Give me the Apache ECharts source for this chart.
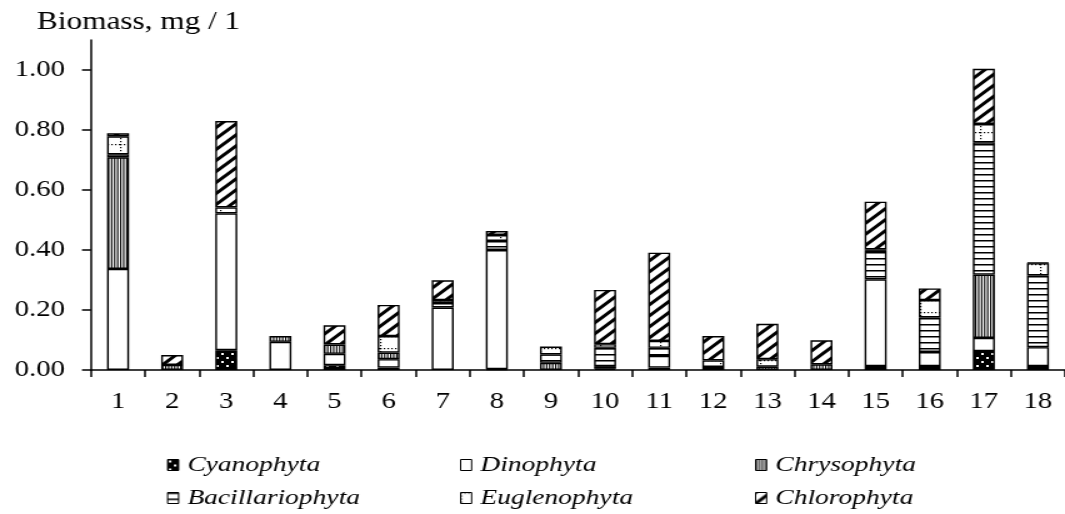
<!DOCTYPE html>
<html>
<head>
<meta charset="utf-8">
<script src="https://cdn.jsdelivr.net/npm/echarts@6/dist/echarts.min.js"></script>
<style>
  html, body { margin: 0; padding: 0; background: #fff; overflow: hidden; }
  #wrap { width: 1065px; height: 514px; overflow: hidden; }
  /* the chart is laid out on a narrower canvas and widened, giving the wide serif lettering */
  #chart { width: 852px; height: 514px; transform: scaleX(1.25); transform-origin: 0 0; }
</style>
</head>
<body>
<div id="wrap"><div id="chart"></div></div>
<script>
// Phytoplankton biomass (mg/l) by station
const stations = ['1','2','3','4','5','6','7','8','9','10','11','12','13','14','15','16','17','18'];
const cyanophyta      = [0,     0,     0.066, 0,     0.016, 0.008, 0,     0.003, 0,     0.004, 0.008, 0.010, 0,     0,     0.013, 0.013, 0.063, 0.013];
const dinophyta       = [0.337, 0,     0.456, 0.094, 0.038, 0.028, 0.208, 0.397, 0,     0,     0.039, 0,     0,     0,     0.289, 0.047, 0.044, 0.063];
const chrysophyta     = [0.372, 0.017, 0,     0.019, 0.031, 0.022, 0,     0,     0.024, 0.009, 0,     0,     0.011, 0.019, 0,     0,     0.211, 0];
const bacillariophyta = [0.010, 0,     0,     0,     0,     0,     0.015, 0.030, 0.028, 0.061, 0.027, 0,     0,     0,     0.095, 0.115, 0.441, 0.239];
const euglenophyta    = [0.060, 0,     0.020, 0,     0,     0.055, 0.010, 0.020, 0.026, 0.012, 0.023, 0.022, 0.025, 0,     0.005, 0.058, 0.061, 0.041];
const chlorophyta     = [0.010, 0.033, 0.288, 0,     0.064, 0.104, 0.066, 0.013, 0,     0.181, 0.294, 0.081, 0.118, 0.080, 0.159, 0.039, 0.184, 0.002];
const yTicks = [0, 0.2, 0.4, 0.6, 0.8, 1.0];

const S = 1.25;               // horizontal widening applied by CSS
const px = v => v / S;        // page x-distance -> canvas x-distance
const FONT = 'Liberation Serif';

function tile(w, h, draw) {
  const c = document.createElement('canvas');
  c.width = w; c.height = h;
  const g = c.getContext('2d');
  g.fillStyle = '#fff';
  g.fillRect(0, 0, w, h);
  g.fillStyle = '#000';
  g.strokeStyle = '#000';
  draw(g, w, h);
  return { image: c, repeat: 'repeat' };
}

const fills = {
  cyan: tile(8, 8, (g, w, h) => {
    g.fillRect(0, 0, w, h);
    g.fillStyle = '#fff';
    g.fillRect(1, 1, 2, 2);
    g.fillRect(5, 5, 2, 2);
  }),
  dino: '#ffffff',
  chrys: tile(12, 4, (g, w, h) => {
    for (let x = 0; x < w; x += 2.4) g.fillRect(x, 0, 1.1, h);
  }),
  bac: tile(4, 6, (g, w) => {
    g.fillRect(0, 0, w, 1.5);
  }),
  eug: tile(16, 12, (g, w, h) => {
    for (let x = 0; x < w; x += 3) g.fillRect(x, 0, 1.2, 1.2);
    for (let y = 0; y < h; y += 3) g.fillRect(0, y, 1.2, 1.2);
  }),
  chl: tile(12, 11, (g, w, h) => {
    g.lineWidth = 3;
    for (let k = -1; k <= 1; k++) {
      g.beginPath();
      g.moveTo(-2, h * (1 + 2 / w) + k * h);
      g.lineTo(w + 2, h * (-2 / w) + k * h);
      g.stroke();
    }
  })
};

const groups = [
  { name: 'Cyanophyta',      data: cyanophyta,      fill: fills.cyan },
  { name: 'Dinophyta',       data: dinophyta,       fill: fills.dino },
  { name: 'Chrysophyta',     data: chrysophyta,     fill: fills.chrys },
  { name: 'Bacillariophyta', data: bacillariophyta, fill: fills.bac },
  { name: 'Euglenophyta',    data: euglenophyta,    fill: fills.eug },
  { name: 'Chlorophyta',     data: chlorophyta,     fill: fills.chl }
];

const series = groups.map(gr => ({
  name: gr.name,
  type: 'bar',
  stack: 'biomass',
  barWidth: px(22),
  itemStyle: { color: gr.fill, borderColor: '#000', borderWidth: 1.4 },
  emphasis: { disabled: true },
  data: gr.data.map(v => (v > 0 ? v : '-'))
}));

// legend: three columns, two rows
const legendCols = [167, 460, 755];
const legendRows = [454, 487];
const legend = groups.map((gr, i) => ({
  data: [gr.name],
  icon: 'rect',
  left: px(legendCols[i % 3]),
  top: legendRows[Math.floor(i / 3)],
  padding: 0,
  itemWidth: px(11),
  itemHeight: 11,
  selectedMode: false,
  itemStyle: { borderWidth: 1, borderColor: '#000' },
  textStyle: { fontFamily: FONT, fontStyle: 'italic', fontSize: 22, color: '#000', padding: [0, 0, 0, 2] }
}));

const chart = echarts.init(document.getElementById('chart'), null, { renderer: 'canvas' });
chart.setOption({
  animation: false,
  backgroundColor: '#fff',
  title: {
    text: 'Biomass, mg / 1',
    left: px(37),
    top: 10,
    padding: 0,
    textStyle: { fontFamily: FONT, fontSize: 25, fontWeight: 'normal', color: '#000' }
  },
  legend: legend,
  grid: { left: px(91), width: px(983), top: 40, height: 330, containLabel: false },
  xAxis: {
    type: 'category',
    data: stations,
    boundaryGap: true,
    axisLine: { lineStyle: { color: '#000', width: 1.5 } },
    axisTick: { show: true, interval: 0, alignWithLabel: false, length: 7, lineStyle: { color: '#000', width: 1.5 } },
    axisLabel: { interval: 0, margin: 20, fontFamily: FONT, fontSize: 23, color: '#000' },
    splitLine: { show: false }
  },
  yAxis: {
    type: 'value',
    min: 0,
    max: 1.1,
    interval: 0.2,
    axisLine: { show: true, lineStyle: { color: '#000', width: 1.5 } },
    axisTick: { show: true, length: px(9), customValues: yTicks, lineStyle: { color: '#000', width: 1.5 } },
    axisLabel: {
      customValues: yTicks,
      margin: px(26),
      fontFamily: FONT, fontSize: 23, color: '#000',
      formatter: v => v.toFixed(2)
    },
    splitLine: { show: false }
  },
  series: series
});
</script>
</body>
</html>
